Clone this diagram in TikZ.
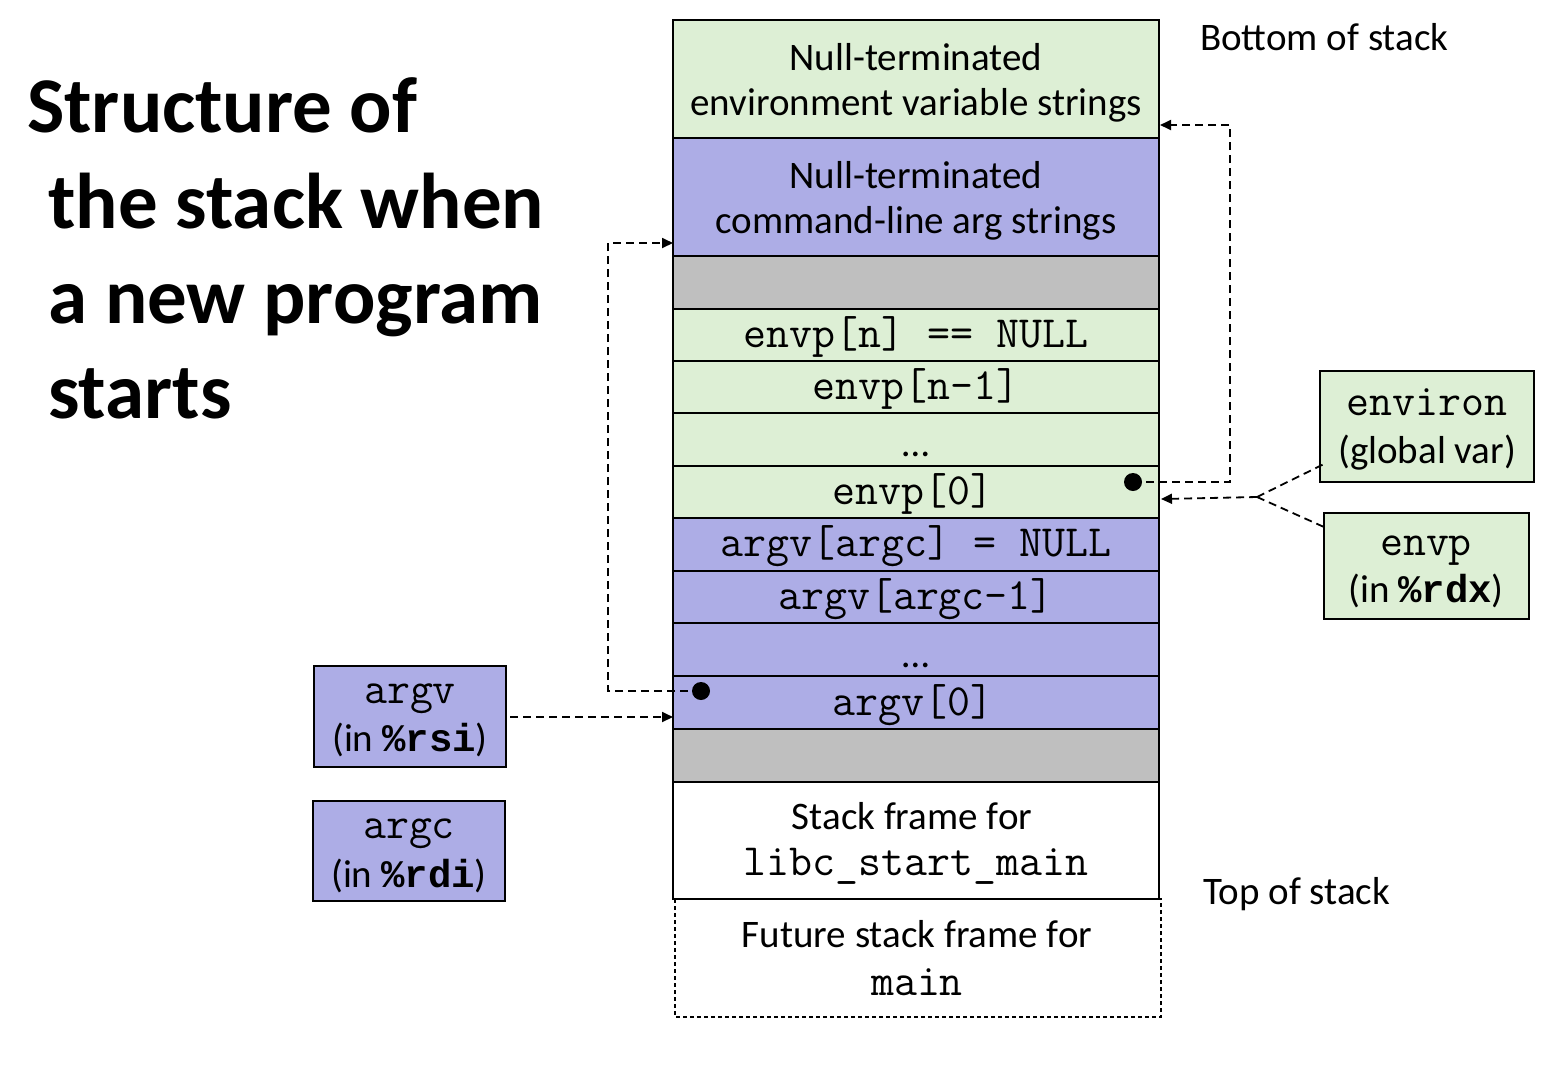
\documentclass[tikz,border=0pt]{standalone}
\usepackage{fontspec}
\setmainfont{Carlito}
\newfontfamily\monobf{Liberation Mono}
\usetikzlibrary{arrows.meta}
\definecolor{envgreen}{RGB}{221,239,213}
\definecolor{argblue}{RGB}{173,173,230}
\definecolor{padgray}{RGB}{191,191,191}
\begin{document}
\begin{tikzpicture}[x=1pt,y=-1pt,
  cell/.style={draw=black,line width=2.2pt,minimum width=486pt,inner sep=0pt,outer sep=0pt,anchor=north west},
  sidebox/.style={draw=black,line width=2pt,inner sep=0pt,outer sep=0pt,anchor=north west},
  lbl/.style={anchor=base,inner sep=0pt,font=\fontsize{39}{47}\selectfont},
  mlbl/.style={anchor=base,inner sep=0pt,font=\fontsize{44.6}{47}\selectfont\ttfamily},
  titlel/.style={anchor=base west,inner sep=0pt,font=\fontsize{79}{95}\selectfont\bfseries},
  ptr/.style={line width=1.8pt,dash pattern=on 8pt off 5pt},
  tip/.style={-{Triangle[length=11pt,width=10pt]}},
  dotn/.style={circle,fill=black,minimum size=18pt,inner sep=0pt}
]
\useasboundingbox (0,0) rectangle (1546,1080);

% title
\node[titlel] (t1) at (27,132) {Structure of};
\node[titlel] (t2) at (48,228) {the stack when};
\node[titlel] (t3) at (48,323) {a new program};
\node[titlel] (t4) at (48,418) {starts};

% stack cells
\node[cell,draw=none,minimum width=486pt,minimum height=118pt] (fut) at (675,899) {};
\draw[line width=1.3pt,dash pattern=on 4pt off 3pt] (fut.north west) rectangle (fut.south east);
\node[cell,fill=envgreen,minimum height=118pt] (r1) at (673,20) {};
\node[cell,fill=argblue,minimum height=118pt] (r2) at (673,138) {};
\node[cell,fill=padgray,minimum height=53pt] (g1) at (673,256) {};
\node[cell,fill=envgreen,minimum height=52pt] (en) at (673,309) {};
\node[cell,fill=envgreen,minimum height=52pt] (en1) at (673,361) {};
\node[cell,fill=envgreen,minimum height=53pt] (edots) at (673,413) {};
\node[cell,fill=envgreen,minimum height=52pt] (e0) at (673,466) {};
\node[cell,fill=argblue,minimum height=53pt] (an) at (673,518) {};
\node[cell,fill=argblue,minimum height=52pt] (an1) at (673,571) {};
\node[cell,fill=argblue,minimum height=53pt] (adots) at (673,623) {};
\node[cell,fill=argblue,minimum height=53pt] (a0) at (673,676) {};
\node[cell,fill=padgray,minimum height=53pt] (g2) at (673,729) {};
\node[cell,fill=white,minimum height=117pt] (sf) at (673,782) {};

% stack texts
\node[lbl] (r1a) at (916,70) {Null-terminated};
\node[lbl] (r1b) at (916,115) {environment variable strings};
\node[lbl] (r2a) at (916,188) {Null-terminated};
\node[lbl] (r2b) at (916,233) {command-line arg strings};
\node[mlbl] (ent) at (916,347) {envp[n] == NULL};
\node[mlbl] (en1t) at (916,399) {envp[n-1]};
\node[lbl] (edt) at (916,456) {\ldots};
\node[mlbl] (e0t) at (913,504) {envp[0]};
\node[mlbl] (ant) at (916,556) {argv[argc] = NULL};
\node[mlbl] (an1t) at (916,609) {argv[argc-1]};
\node[lbl] (adt) at (916,667) {\ldots};
\node[mlbl] (a0t) at (913,715) {argv[0]};
\node[lbl] (sfa) at (912,829) {Stack frame for};
\node[mlbl] (sfb) at (916,875) {libc\_start\_main};
\node[lbl] (fua) at (917,947) {Future stack frame for};
\node[mlbl] (fub) at (917,995) {main};

% side labels
\node[lbl,anchor=base west] (bot) at (1200,50) {Bottom of stack};
\node[lbl,anchor=base west] (top) at (1203,904) {Top of stack};

% right boxes
\node[sidebox,fill=envgreen,minimum width=214pt,minimum height=111pt] (environ) at (1320,371) {};
\node[mlbl] (environa) at (1427,415) {environ};
\node[lbl] (environb) at (1427,463) {(global var)};
\node[sidebox,fill=envgreen,minimum width=205pt,minimum height=106pt] (envpb) at (1324,513) {};
\node[mlbl] (envpa) at (1426,555) {envp};
\node[lbl] (envpbt) at (1426,602) {(in {\monobf\bfseries \%rdx})};

% left boxes
\node[sidebox,fill=argblue,minimum width=192pt,minimum height=101pt] (argvb) at (314,666) {};
\node[mlbl] (argva) at (410,703) {argv};
\node[lbl] (argvbt) at (410,751) {(in {\monobf\bfseries \%rsi})};
\node[sidebox,fill=argblue,minimum width=192pt,minimum height=100pt] (argcb) at (313,801) {};
\node[mlbl] (argca) at (409,838) {argc};
\node[lbl] (argcbt) at (409,887) {(in {\monobf\bfseries \%rdi})};

% connectors
\coordinate (envturnA) at (1230,482);
\coordinate (envturnB) at (1230,125);
\coordinate (envstrtip) at (1160,125);
\coordinate (dotenvc) at (1133,482);
\draw[ptr,tip] (dotenvc) -- (envturnA) -- (envturnB) -- (envstrtip);
\node[dotn] (dotenv) at (dotenvc) {};

\coordinate (jn) at (1257,497);
\coordinate (e0tip) at (1161,499);
\coordinate (environend) at (1326,463);
\coordinate (envpend) at (1324,527);
\draw[ptr,tip] (jn) -- (e0tip);
\draw[ptr] (jn) -- (environend);
\draw[ptr] (jn) -- (envpend);

\coordinate (argturnA) at (608,691);
\coordinate (argturnB) at (608,243);
\coordinate (argstrtip) at (673,243);
\coordinate (dotargc) at (701,691);
\draw[ptr,tip] (dotargc) -- (argturnA) -- (argturnB) -- (argstrtip);
\node[dotn] (dotarg) at (dotargc) {};

\coordinate (a0tip) at (673,717);
\coordinate (argvstart) at (510,717);
\draw[ptr,tip] (argvstart) -- (a0tip);
\end{tikzpicture}
\end{document}
